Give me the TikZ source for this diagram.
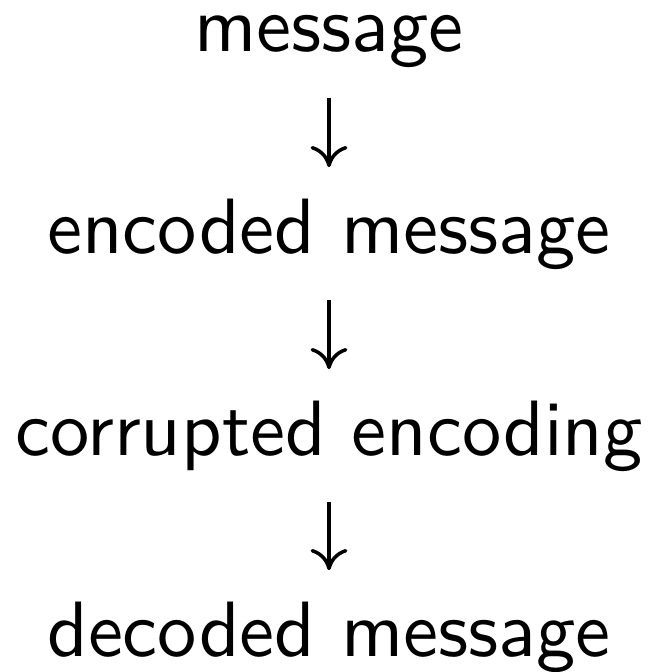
\documentclass[tikz,border=0pt]{standalone}
\usetikzlibrary{arrows.meta}
\tikzset{
  lbl/.style={inner sep=0pt, outer sep=0pt, anchor=base, font=\sffamily},
  flow/.style={line width=0.45pt, -{To[length=2.7pt,width=4.7pt]}, shorten <=3.9pt, shorten >=4.0pt}
}
\begin{document}
\begin{tikzpicture}[x=0.12739pt, y=-0.12739pt]
\useasboundingbox (0,0) rectangle (650,672);
\node[lbl] (m1) at (329,51) {message};
\node[lbl] (m2) at (329,253) {encoded message};
\node[lbl] (m3) at (329,455) {corrupted encoding};
\node[lbl] (m4) at (329,656) {decoded message};
\draw[flow] (m1.south) -- (m2.north);
\draw[flow] (m2.south) -- (m3.north);
\draw[flow] (m3.south) -- (m4.north);
\end{tikzpicture}
\end{document}
